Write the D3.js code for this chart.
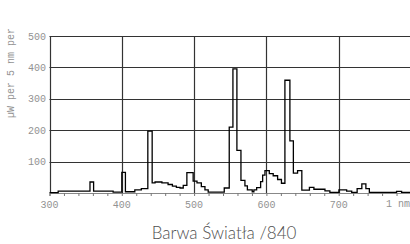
<!DOCTYPE html>
<html>
<head>
<meta charset="utf-8">
<script src="https://cdn.jsdelivr.net/npm/d3@7"></script>
<style>
  body { margin: 0; background: #fff; }
  svg { display: block; }
</style>
</head>
<body>
<div id="chart"></div>
<script>
// spectrum bins: start wavelength (nm) and power (µW per 5 nm)
var wavelengths = [300, 312, 356, 361, 388, 400, 405, 418, 427, 436, 442, 446, 455.5, 464, 470, 475.5,
                   480.5, 485, 490, 498.7, 504, 510, 515, 519.5, 541.7, 548.6, 553.7, 559.2, 564.8, 570.3,
                   573.7, 580.4, 582.7, 586.5, 592, 594.8, 598, 604, 609.4, 615.5, 620.8, 625.6, 632.5,
                   637.3, 643.1, 649, 659.5, 665.7, 681, 687.8, 700.3, 711, 718, 725.5, 732, 737.6, 742.4,
                   780, 787, 800];
var power = [1, 6, 35, 6, 3, 66, 4, 10, 14, 197, 32, 35, 32, 27, 22, 18,
             16, 24, 65, 38, 32, 20, 10, 3, 16, 210, 395, 136, 40, 23,
             10, 4, 10, 17, 36, 57, 71, 62, 55, 43, 31, 359, 166,
             63, 71, 9, 18, 12, 7, 2, 10, 6, 2, 14, 29, 14, 2,
             5, 2, 2];

var xTicks = [300, 400, 500, 600, 700];
var yTicks = [100, 200, 300, 400, 500];
var minorTicks = d3.range(300, 801, 20);

var yTitle = "µW per 5 nm per";
var xUnit = "1 nm";
var title = "Barwa Światła /840";

var W = 410, H = 244;
var margin = {top: 36, left: 49.5, bottom: 51};

var svg = d3.select("#chart").append("svg")
    .attr("width", W)
    .attr("height", H);

var x = d3.scaleLinear().domain([300, 800]).range([margin.left, 411]);
var y = d3.scaleLinear().domain([0, 500]).range([H - margin.bottom, margin.top]);

var mono = "'Liberation Mono', 'DejaVu Sans Mono', monospace";
var labelGrey = "#929292";

// grid
svg.append("g").selectAll("line.h")
  .data(yTicks)
  .join("line")
    .attr("x1", x(300)).attr("x2", W)
    .attr("y1", d => Math.round(y(d)) + 0.5).attr("y2", d => Math.round(y(d)) + 0.5)
    .attr("stroke", "#333").attr("stroke-width", 1.2);

svg.append("g").selectAll("line.v")
  .data(xTicks)
  .join("line")
    .attr("x1", d => Math.round(x(d)) + 0.5).attr("x2", d => Math.round(x(d)) + 0.5)
    .attr("y1", y(500)).attr("y2", y(0))
    .attr("stroke", "#333").attr("stroke-width", 1.2);

// minor ticks along the baseline
svg.append("g")
    .attr("transform", "translate(0," + y(0) + ")")
    .call(d3.axisBottom(x).tickValues(minorTicks).tickSize(3).tickFormat(""))
    .call(g => g.select(".domain").attr("stroke", "#888"))
    .call(g => g.selectAll(".tick line").attr("stroke", "#777"));

// tick labels
svg.append("g").selectAll("text")
  .data(xTicks)
  .join("text")
    .attr("x", d => x(d))
    .attr("y", y(0) + 15)
    .attr("text-anchor", "middle")
    .attr("font-family", mono).attr("font-size", 10)
    .attr("fill", labelGrey)
    .text(d => d);

svg.append("text")
    .attr("x", W)
    .attr("y", y(0) + 14)
    .attr("text-anchor", "end")
    .attr("font-family", mono).attr("font-size", 10)
    .attr("fill", labelGrey)
    .text(xUnit);

svg.append("g").selectAll("text")
  .data(yTicks)
  .join("text")
    .attr("x", 46)
    .attr("y", d => y(d) + 3.5)
    .attr("text-anchor", "end")
    .attr("font-family", mono).attr("font-size", 10)
    .attr("fill", labelGrey)
    .text(d => d);

// y title
svg.append("text")
    .attr("transform", "translate(14,118) rotate(-90)")
    .attr("font-family", mono).attr("font-size", 10)
    .attr("fill", labelGrey)
    .text(yTitle);

// spectrum
var pts = wavelengths.map((d, i) => ({nm: d, v: power[i]}));

var line = d3.line()
    .x(d => x(d.nm))
    .y(d => y(d.v))
    .curve(d3.curveStepAfter);

svg.append("path")
    .datum(pts)
    .attr("fill", "none")
    .attr("stroke", "#000")
    .attr("stroke-width", 1.3)
    .attr("d", line);

// title
svg.append("text")
    .attr("x", 224)
    .attr("y", 239)
    .attr("text-anchor", "middle")
    .attr("font-family", "Lato, 'Open Sans', sans-serif")
    .attr("font-weight", 300)
    .attr("font-size", 17)
    .attr("fill", "#505050")
    .text(title);
</script>
</body>
</html>
